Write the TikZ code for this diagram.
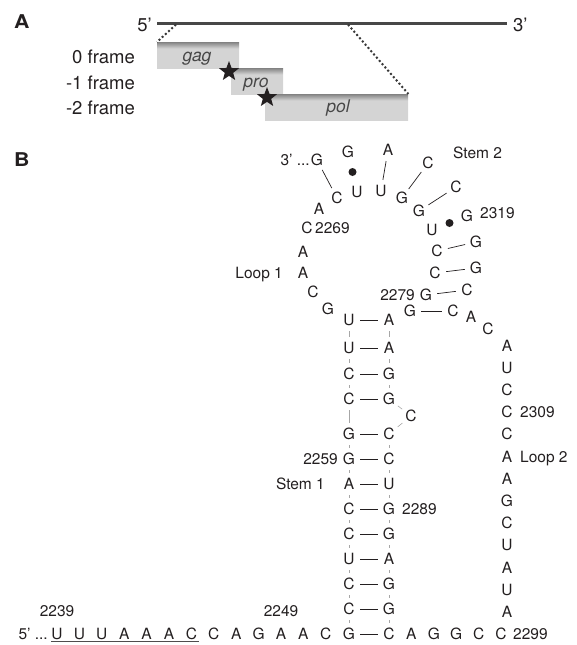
\documentclass[tikz,border=0pt]{standalone}
\usepackage{fontspec}
\setmainfont{TeX Gyre Heros}
\usetikzlibrary{shapes.geometric}
\definecolor{ink}{HTML}{231F20}
\definecolor{boxfill}{HTML}{D4D4D4}
\definecolor{boxedge}{HTML}{858585}
\pgfdeclareverticalshading{genebox}{100bp}{color(0bp)=(boxfill); color(25bp)=(boxfill); color(63bp)=(boxfill); color(75bp)=(boxedge); color(100bp)=(boxedge)}
\newcommand\nucsize{\fontsize{15.5}{18}\selectfont}
\newcommand\framesize{\fontsize{18.5}{22}\selectfont}
\newcommand\genesize{\fontsize{17.5}{20}\itshape\selectfont}
\newcommand\panelsize{\fontsize{19}{22}\bfseries\selectfont}
\begin{document}
\begin{tikzpicture}[x=1pt,y=-1pt,
  nt/.style={circle,minimum size=22pt,inner sep=0pt,text height=11.2pt,text depth=0pt,font=\nucsize,text=ink},
  lbl/.style={inner sep=0pt,text height=11.2pt,text depth=0pt,font=\nucsize,text=ink},
  flbl/.style={inner sep=0pt,font=\framesize,text=ink},
  gene/.style={inner sep=0pt,font=\genesize,text=black!72,anchor=base},
  genebar/.style={shading=genebox,inner sep=0pt,anchor=north west},
  wc/.style={draw=ink,line width=0.7pt},
  bb/.style={draw=black!35,line width=0.6pt},
  gu/.style={fill=ink,circle,inner sep=0pt,minimum size=8pt},
  fsstar/.style={star,star points=5,star point ratio=2.4,fill=ink,draw=none,minimum size=21pt,inner sep=0pt},
  panel/.style={inner sep=0pt,font=\panelsize,text=ink,anchor=base west},
  genome/.style={draw=black!72,line width=3pt},
  span/.style={draw=black!78,line width=2pt,dash pattern=on 2pt off 2.3pt}
]
\useasboundingbox (0,0) rectangle (577,645);

% ---------------- panel A: genome and reading frames ----------------
\node[panel] (pA) at (14,28.3) {\scalebox{1.12}[1]{A}};
\coordinate (g5) at (157,23);
\coordinate (g3) at (507,23);
\draw[genome] (g5) -- (g3);
\node[flbl,anchor=base east] (end5) at (152,31.5) {5’};
\node[flbl,anchor=base west] (end3) at (513,31) {3’};

\node[genebar,minimum width=82pt,minimum height=26pt] (gag) at (157,42) {};
\node[genebar,minimum width=52pt,minimum height=26pt] (pro) at (231,68) {};
\node[genebar,minimum width=143pt,minimum height=26pt] (pol) at (265,94) {};
\node[gene] (gagt) at (197,61) {gag};
\node[gene] (prot) at (256,87) {pro};
\node[gene] (polt) at (338,112) {pol};

\node[flbl,anchor=base east] (f0) at (135,63.3) {0 frame};
\node[flbl,anchor=base east] (f1) at (135,89) {-1 frame};
\node[flbl,anchor=base east] (f2) at (135,114.5) {-2 frame};

\coordinate (s1) at (176,24.5);
\coordinate (s2) at (348,24.5);
\draw[span] (s1) -- (gag.north west);
\draw[span] (s2) -- (pol.north east);

\node[fsstar] (fs1) at (229,71.5) {};
\node[fsstar] (fs2) at (267,97.5) {};

% ---------------- panel B: RNA secondary structure ----------------
\node[panel] (pB) at (14,166.5) {\scalebox{1.12}[1]{B}};

\foreach \id/\b/\x/\y in {
  2239/U/57/634, 2240/U/79.4/634, 2241/U/101.8/634, 2242/A/124.2/634,
  2243/A/146.6/634, 2244/A/169/634, 2245/C/191.4/634, 2246/C/213.8/634,
  2247/A/236.2/634, 2248/G/258.6/634, 2249/A/281/634, 2250/A/303.4/634,
  2251/C/325.8/634, 2252/G/349/634,
  2253/C/349/609, 2254/C/349/584, 2255/U/349/559, 2256/C/349/534,
  2257/C/349/509, 2258/A/349/484, 2259/G/349/459, 2260/G/349/434,
  2261/C/349/399, 2262/C/349/374, 2263/U/349/348, 2264/U/349/320,
  2265/G/328/309, 2266/C/313/292, 2267/A/303/273, 2268/A/303/252,
  2269/C/307/228, 2270/A/319/209, 2271/C/337/198, 2272/U/357/192,
  2273/U/381/191, 2274/G/402/198, 2275/G/419/211, 2276/U/432/230,
  2277/C/437/251, 2278/C/435/273, 2279/G/426/295, 2280/G/410/311,
  2281/A/389/320, 2282/A/389/348, 2283/G/389/374, 2284/G/389/399,
  2285/C/411/416, 2286/C/389/434, 2287/C/389/459, 2288/U/389/484,
  2289/G/389/509, 2290/G/389/534, 2291/A/389/559, 2292/G/389/584,
  2293/G/389/609, 2294/C/389/634,
  2295/A/411.4/634, 2296/G/433.8/634, 2297/G/456.2/634, 2298/C/478.6/634,
  2299/C/501/634,
  2300/A/507/611.8, 2301/U/507/589.6, 2302/A/507/567.4, 2303/U/507/545.2,
  2304/C/507/523, 2305/G/507/500.8, 2306/A/507/478.6, 2307/A/507/456.4,
  2308/C/507/434.2, 2309/C/507/412, 2310/C/507/389.8, 2311/U/507/367.6,
  2312/A/507/345.4,
  2313/C/488/329, 2314/A/471/317, 2315/C/453/311, 2316/C/467/290,
  2317/G/476/268, 2318/G/476/242, 2319/G/467/216, 2320/C/456/187,
  2321/C/428/163, 2322/A/388/150, 2323/G/348/152, 2324/G/317/160}
  \node[nt] (n\id) at (\x,\y) {\b};

% backbone of stem 1
\foreach \a/\b in {2252/2253,2253/2254,2254/2255,2255/2256,2256/2257,2257/2258,
  2258/2259,2259/2260,2260/2261,2261/2262,2262/2263,2263/2264,
  2281/2282,2282/2283,2283/2284,2284/2285,2285/2286,2286/2287,2287/2288,
  2288/2289,2289/2290,2290/2291,2291/2292,2292/2293,2293/2294}
  \draw[bb] (n\a) -- (n\b);

% Watson-Crick pairs
\foreach \a/\b in {2252/2294,2253/2293,2254/2292,2255/2291,2256/2290,2257/2289,
  2258/2288,2259/2287,2260/2286,2261/2284,2262/2283,2263/2282,2264/2281,
  2271/2324,2273/2322,2274/2321,2275/2320,2277/2318,2278/2317,2279/2316,2280/2315}
  \draw[wc] (n\a) -- (n\b);

% G-U wobble pairs
\path (n2272) -- node[gu] (w1) {} (n2323);
\path (n2276) -- node[gu] (w2) {} (n2319);

% ends, numbering and region names
\node[lbl,anchor=east] (e5) at (48,634) {5’ ...};
\node[lbl,anchor=east] (e3) at (310,160) {3’ ...};
\coordinate (ul1) at (51,641.5);
\coordinate (ul2) at (199,641.5);
\draw[draw=ink!80,line width=0.6pt] (ul1) -- (ul2);

\node[lbl] (l2239) at (57,611) {2239};
\node[lbl] (l2249) at (281,611) {2249};
\node[lbl,anchor=west] (l2299) at (513,634) {2299};
\node[lbl,anchor=east] (l2259) at (338,459) {2259};
\node[lbl,anchor=east] (st1) at (325,484) {Stem 1};
\node[lbl,anchor=west] (l2289) at (402,509) {2289};
\node[lbl,anchor=west] (l2309) at (520,412) {2309};
\node[lbl,anchor=west] (lp2) at (520,456.4) {Loop 2};
\node[lbl,anchor=east] (l2279) at (415,295) {2279};
\node[lbl,anchor=east] (lp1) at (283,273) {Loop 1};
\node[lbl,anchor=west] (l2269) at (315,228) {2269};
\node[lbl,anchor=west] (l2319) at (480,213) {2319};
\node[lbl,anchor=west] (st2) at (453,153) {Stem 2};
\end{tikzpicture}
\end{document}
